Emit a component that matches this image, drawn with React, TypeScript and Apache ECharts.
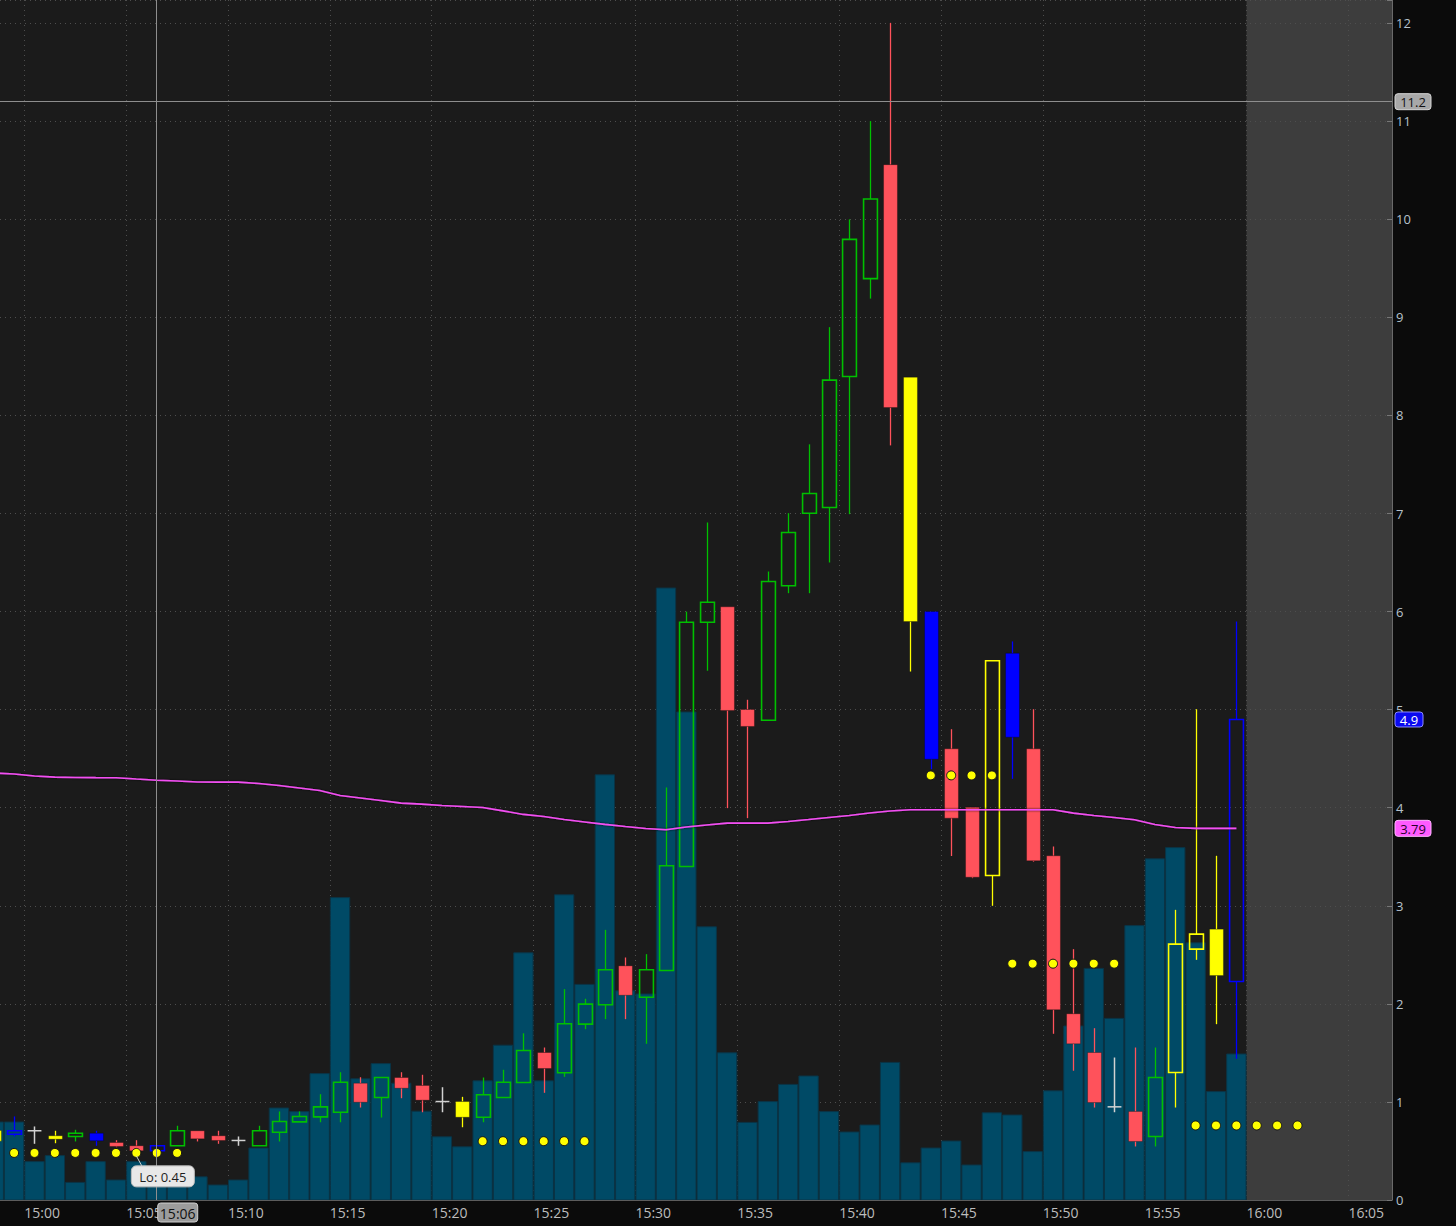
import React, { useEffect, useRef } from "react";
import * as echarts from "echarts";

// minutes after 15:00 (each candle covers [m, m+1))
const minutes = [-2, -1, 0, 1, 2, 3, 4, 5, 6, 7, 8, 9, 10, 11, 12, 13, 14, 15, 16, 17, 18, 19, 20, 21, 22, 23, 24, 25, 26, 27, 28, 29, 30, 31, 32, 33, 34, 35, 36, 37, 38, 39, 40, 41, 42, 43, 44, 45, 46, 47, 48, 49, 50, 51, 52, 53, 54, 55, 56, 57, 58, 59];
const opens = [0.71, 0.671, 0.706, 0.655, 0.648, 0.681, 0.586, 0.553, 0.502, 0.553, 0.706, 0.655, 0.607, 0.553, 0.691, 0.797, 0.848, 0.895, 1.191, 1.045, 1.249, 1.168, 1.004, 1.004, 0.844, 1.045, 1.198, 1.504, 1.297, 1.793, 1.991, 2.388, 2.068, 2.34, 3.401, 5.892, 6.049, 5.002, 4.893, 6.264, 7.003, 7.062, 8.398, 9.396, 10.558, 8.391, 6.001, 4.601, 4.006, 3.309, 5.576, 4.601, 3.51, 1.899, 1.504, 0.95, 0.903, 0.648, 1.3, 2.558, 2.762, 2.228];
const closes = [0.6, 0.706, 0.706, 0.62, 0.681, 0.604, 0.546, 0.502, 0.553, 0.706, 0.624, 0.607, 0.607, 0.706, 0.8, 0.851, 0.95, 1.201, 0.997, 1.249, 1.14, 1.018, 1.004, 0.844, 1.073, 1.201, 1.525, 1.341, 1.797, 1.997, 2.348, 2.088, 2.348, 3.408, 5.892, 6.096, 4.992, 4.829, 6.307, 6.807, 7.204, 8.361, 9.796, 10.208, 8.081, 5.899, 4.495, 3.894, 3.292, 5.499, 4.72, 3.459, 1.94, 1.593, 0.994, 0.95, 0.597, 1.249, 2.609, 2.711, 2.289, 4.9];
const lows = [0.59, 0.648, 0.573, 0.579, 0.597, 0.553, 0.538, 0.45, 0.49, 0.553, 0.597, 0.573, 0.553, 0.553, 0.597, 0.797, 0.793, 0.793, 0.943, 0.841, 1.038, 0.895, 0.895, 0.742, 0.793, 1.045, 1.198, 1.093, 1.256, 1.742, 1.844, 1.844, 1.593, 2.34, 3.401, 5.397, 3.996, 3.894, 4.893, 6.188, 6.188, 6.501, 6.994, 9.192, 7.695, 5.389, 4.393, 3.508, 3.282, 3.0, 4.295, 3.45, 1.695, 1.318, 0.943, 0.895, 0.546, 0.546, 0.943, 2.449, 1.793, 1.44];
const highs = [0.72, 0.852, 0.75, 0.706, 0.716, 0.706, 0.61, 0.61, 0.56, 0.757, 0.706, 0.706, 0.648, 0.757, 0.903, 0.903, 1.079, 1.303, 1.252, 1.249, 1.303, 1.277, 1.15, 1.052, 1.249, 1.328, 1.7, 1.555, 2.15, 2.052, 2.755, 2.473, 2.507, 4.207, 6.0, 6.909, 6.049, 5.101, 6.409, 7.004, 7.706, 8.901, 10.0, 11.002, 12.004, 8.391, 6.001, 4.801, 4.006, 5.499, 5.696, 5.005, 3.605, 2.558, 1.752, 1.453, 1.555, 1.555, 2.959, 5.005, 3.51, 5.899];
// candle colour study: G green, R red, Y yellow, B blue, W neutral doji
const kinds = ["Y", "B", "W", "Y", "G", "B", "R", "R", "B", "G", "R", "R", "W", "G", "G", "G", "G", "G", "R", "G", "R", "R", "W", "Y", "G", "G", "G", "R", "G", "G", "G", "R", "G", "G", "G", "G", "R", "R", "G", "G", "G", "G", "G", "G", "R", "Y", "B", "R", "R", "Y", "B", "R", "R", "R", "R", "W", "R", "G", "Y", "Y", "Y", "B"];
// volume in thousands of shares
const volumes = [19.5, 19.5, 9.6, 11.1, 4.4, 9.6, 5.0, 9.6, 5.5, 5.8, 5.8, 3.75, 5.0, 13.0, 23.0, 22.1, 31.6, 75.6, 30.3, 34.1, 29.2, 22.2, 15.8, 13.3, 29.8, 38.7, 61.8, 29.8, 76.3, 53.9, 106.3, 52.3, 51.5, 153, 122, 68.3, 36.8, 19.4, 24.6, 28.9, 31, 22.1, 17, 18.75, 34.4, 9.3, 13, 14.75, 8.75, 21.8, 21.25, 12.1, 27.3, 43.5, 57.9, 45.4, 68.6, 85.3, 88.1, 64.3, 27.1, 36.5];
// moving average (magenta)
const avgLine = [4.354, 4.344, 4.324, 4.312, 4.309, 4.307, 4.306, 4.293, 4.281, 4.273, 4.263, 4.261, 4.261, 4.248, 4.227, 4.202, 4.176, 4.125, 4.1, 4.074, 4.047, 4.037, 4.023, 4.013, 4.003, 3.968, 3.932, 3.911, 3.88, 3.855, 3.83, 3.809, 3.789, 3.775, 3.804, 3.824, 3.843, 3.843, 3.843, 3.86, 3.88, 3.901, 3.921, 3.947, 3.967, 3.979, 3.979, 3.979, 3.979, 3.979, 3.979, 3.979, 3.979, 3.945, 3.921, 3.901, 3.877, 3.829, 3.799, 3.79, 3.79, 3.79];
// yellow dot study: [minute, level]
const dotMinutes = [-1, 0, 1, 2, 3, 4, 5, 6, 7, 22, 23, 24, 25, 26, 27, 44, 45, 46, 47, 48, 49, 50, 51, 52, 53, 57, 58, 59, 60, 61, 62];
const dotLevels = [0.48, 0.48, 0.48, 0.48, 0.48, 0.48, 0.48, 0.48, 0.48, 0.6, 0.6, 0.6, 0.6, 0.6, 0.6, 4.33, 4.33, 4.33, 4.33, 2.41, 2.41, 2.41, 2.41, 2.41, 2.41, 0.76, 0.76, 0.76, 0.76, 0.76, 0.76];
const timeTicks = [0, 5, 10, 15, 20, 25, 30, 35, 40, 45, 50, 55, 60, 65];
const priceTicks = [0, 1, 2, 3, 4, 5, 6, 7, 8, 9, 10, 11, 12];

const X_MIN = -1.193;
const X_MAX = 67.14;
const Y_MAX = 12.237;
const SESSION_END = 60;
const crossMinute = 6.5;
const crossPrice = 11.2;
const lowMinute = 5.5;
const lowPrice = 0.45;
const lastPrice = 4.9;
const lastAvg = 3.79;

const COLORS: Record<string, string> = {
  G: "#00c000",
  R: "#ff525b",
  Y: "#ffff00",
  B: "#0000ff",
  W: "#d2d2d2",
};

const FONT = '"Open Sans", "Noto Sans", sans-serif';

function fmtTime(v: number) {
  const total = 15 * 60 + Math.round(v);
  const h = Math.floor(total / 60);
  const m = total % 60;
  return `${h}:${m < 10 ? "0" + m : m}`;
}

export default function App() {
  const ref = useRef<HTMLDivElement>(null);

  useEffect(() => {
    if (!ref.current) return;
    const chart = echarts.init(ref.current, null, { renderer: "svg" });

    const candleData = minutes.map((m, i) => [m + 0.5, opens[i], closes[i], lows[i], highs[i]]);
    const volData = minutes.map((m, i) => [m, volumes[i]]);
    const avgData = minutes.map((m, i) => [m + 0.5, avgLine[i]]);
    const dotData = dotMinutes.map((m, i) => [m + 0.5, dotLevels[i]]);
    const sessionData = [
      [X_MIN, SESSION_END, 0],
      [SESSION_END, X_MAX, 1],
    ];

    const option: any = {
      animation: false,
      backgroundColor: "#0b0b0b",
      grid: {
        left: 0,
        top: 0,
        width: 1392,
        height: 1200,
        show: true,
        backgroundColor: "#1b1b1b",
        borderWidth: 0,
        z: -2,
      },
      xAxis: {
        type: "value",
        min: X_MIN,
        max: X_MAX,
        axisLine: { show: true, onZero: false, lineStyle: { color: "#5c5c5c", width: 1 } },
        axisTick: { show: false, customValues: timeTicks },
        axisLabel: {
          customValues: timeTicks,
          formatter: (v: number) => fmtTime(v),
          align: "left",
          margin: 5,
          color: "#bdbdbd",
          fontSize: 14,
          fontFamily: FONT,
        },
        splitLine: { show: true, lineStyle: { color: "#4e4e4e", type: [1, 4], width: 1 } },
      },
      yAxis: [
        {
          type: "value",
          position: "right",
          min: 0,
          max: Y_MAX,
          interval: 1,
          axisLine: { show: true, onZero: false, lineStyle: { color: "#6a6a6a", width: 1 } },
          axisTick: { show: true, inside: true, length: 5, lineStyle: { color: "#777" } },
          axisLabel: {
            margin: 4,
            color: "#b6c2cc",
            fontSize: 13,
            fontFamily: FONT,
            formatter: (v: number) => (priceTicks.includes(v) ? String(v) : ""),
          },
          splitLine: { show: true, lineStyle: { color: "#4e4e4e", type: [1, 4], width: 1 } },
        },
        {
          type: "value",
          min: 0,
          max: 300,
          show: false,
          axisLine: { onZero: false },
          splitLine: { show: false },
        },
      ],
      series: [
        {
          name: "session",
          type: "custom",
          z: -1,
          silent: true,
          clip: true,
          data: sessionData,
          encode: { x: [0, 1] },
          renderItem: (params: any, api: any) => {
            const a = api.coord([api.value(0), Y_MAX]);
            const b = api.coord([api.value(1), 0]);
            const after = api.value(2) === 1;
            return {
              type: "rect",
              shape: { x: a[0], y: a[1], width: b[0] - a[0], height: b[1] - a[1] },
              style: { fill: after ? "#3d3d3d" : "#1b1b1b" },
            };
          },
        },
        {
          name: "volume",
          type: "custom",
          yAxisIndex: 1,
          clip: true,
          silent: true,
          data: volData,
          encode: { x: 0, y: 1 },
          renderItem: (params: any, api: any) => {
            const m = api.value(0);
            const v = api.value(1);
            const a = api.coord([m, v]);
            const b = api.coord([m + 1, 0]);
            return {
              type: "rect",
              shape: { x: a[0] + 0.5, y: a[1], width: b[0] - a[0] - 1, height: b[1] - a[1] },
              style: { fill: "#004a66", stroke: "#0a3446", lineWidth: 1 },
            };
          },
        },
        {
          name: "crosshair",
          type: "line",
          data: [],
          silent: true,
          markLine: {
            silent: true,
            symbol: ["none", "none"],
            label: { show: false },
            lineStyle: { color: "#8e8e8e", width: 1, type: "solid" },
            data: [{ yAxis: crossPrice }, { xAxis: crossMinute }],
          },
        },
        {
          name: "candles",
          type: "custom",
          clip: true,
          silent: true,
          data: candleData,
          encode: { x: 0, y: [1, 2, 3, 4] },
          renderItem: (params: any, api: any) => {
            const x = api.value(0);
            const o = api.value(1);
            const c = api.value(2);
            const l = api.value(3);
            const h = api.value(4);
            const kind = kinds[params.dataIndex];
            const color = COLORS[kind];
            const pO = api.coord([x, o]);
            const pC = api.coord([x, c]);
            const pH = api.coord([x, h]);
            const pL = api.coord([x, l]);
            const w = api.size([1, 0])[0] * 0.68;
            const cx = Math.round(pO[0]) + 0.5;
            if (kind === "W") {
              return {
                type: "group",
                children: [
                  { type: "line", shape: { x1: cx, y1: pH[1], x2: cx, y2: pL[1] }, style: { stroke: color, lineWidth: 1.5 } },
                  { type: "line", shape: { x1: cx - w / 2, y1: pO[1], x2: cx + w / 2, y2: pO[1] }, style: { stroke: color, lineWidth: 1.5 } },
                ],
              };
            }
            const top = Math.min(pO[1], pC[1]);
            const bottom = Math.max(pO[1], pC[1]);
            const hollow = c > o;
            const children: any[] = [];
            if (pH[1] < top) {
              children.push({ type: "line", shape: { x1: cx, y1: pH[1], x2: cx, y2: top }, style: { stroke: color, lineWidth: 1.3 } });
            }
            if (pL[1] > bottom) {
              children.push({ type: "line", shape: { x1: cx, y1: bottom, x2: cx, y2: pL[1] }, style: { stroke: color, lineWidth: 1.3 } });
            }
            children.push({
              type: "rect",
              shape: { x: cx - w / 2, y: top, width: w, height: Math.max(bottom - top, 1.5) },
              style: hollow
                ? { fill: "none", stroke: color, lineWidth: 1.6 }
                : { fill: color, stroke: "rgba(0,0,0,0.35)", lineWidth: 0.8 },
            });
            return { type: "group", children };
          },
        },
        {
          name: "average",
          type: "line",
          data: avgData,
          symbol: "none",
          silent: true,
          clip: true,
          lineStyle: { color: "#f24ff2", width: 1.6, shadowColor: "rgba(0,0,0,0.9)", shadowBlur: 2 },
        },
        {
          name: "dots",
          type: "scatter",
          data: dotData,
          symbol: "circle",
          symbolSize: 9,
          silent: true,
          itemStyle: { color: "#ffff00", borderColor: "#161616", borderWidth: 1, opacity: 1 },
        },
      ],
    };

    chart.setOption(option);

    const px = (x: number, y: number) => chart.convertToPixel({ gridIndex: 0 }, [x, y]) as number[];
    const pCross = px(crossMinute, crossPrice);
    const pLow = px(lowMinute, lowPrice);
    const pLast = px(X_MAX, lastPrice);
    const pAvg = px(X_MAX, lastAvg);

    const Z = 200;
    const tag = (x: number, yc: number, w: number, h: number, text: string, fill: string, stroke: string, textFill: string, size: number) => [
      {
        type: "rect",
        z: Z,
        silent: true,
        shape: { x, y: yc - h / 2, width: w, height: h, r: 3 },
        style: { fill, stroke, lineWidth: 1 },
      },
      {
        type: "text",
        z: Z + 1,
        silent: true,
        x: x + w / 2,
        y: yc + 0.5,
        style: { text, fill: textFill, font: `${size}px ${FONT}`, align: "center", verticalAlign: "middle" },
      },
    ];

    const loX = pLow[0] - 5;
    const loY = pLow[1] + 10;

    chart.setOption({
      graphic: [
        ...tag(1395, pCross[1], 36, 16, "11.2", "#a8a8a8", "#d6d6d6", "#111111", 13),
        ...tag(1395, pLast[1], 28, 15, "4.9", "#0a0af0", "#8c8cff", "#ffffff", 13),
        ...tag(1395, pAvg[1], 36, 16, "3.79", "#ff5aff", "#ffb4ff", "#2a002a", 13),
        ...tag(pCross[0] + 1, 1212.5, 40, 19, "15:06", "#9c9c9c", "#cfcfcf", "#111111", 14),
        {
          type: "line",
          z: Z,
          silent: true,
          shape: { x1: pLow[0], y1: pLow[1], x2: pLow[0] + 6, y2: loY + 1 },
          style: { stroke: "#cfcfcf", lineWidth: 1 },
        },
        {
          type: "rect",
          z: Z + 1,
          silent: true,
          shape: { x: loX, y: loY, width: 63, height: 21, r: 5 },
          style: { fill: "#e8e8e8", stroke: "#bdbdbd", lineWidth: 1 },
        },
        {
          type: "text",
          z: Z + 2,
          silent: true,
          x: loX + 31.5,
          y: loY + 11,
          style: { text: "Lo: 0.45", fill: "#1e1e1e", font: `13px ${FONT}`, align: "center", verticalAlign: "middle" },
        },
      ],
    });

    return () => {
      chart.dispose();
    };
  }, []);

  return (
    <div
      style={{ position: "fixed", left: 0, top: 0, width: 1456, height: 1226, background: "#0b0b0b" }}
    >
      <div ref={ref} style={{ width: 1456, height: 1226 }} />
    </div>
  );
}
